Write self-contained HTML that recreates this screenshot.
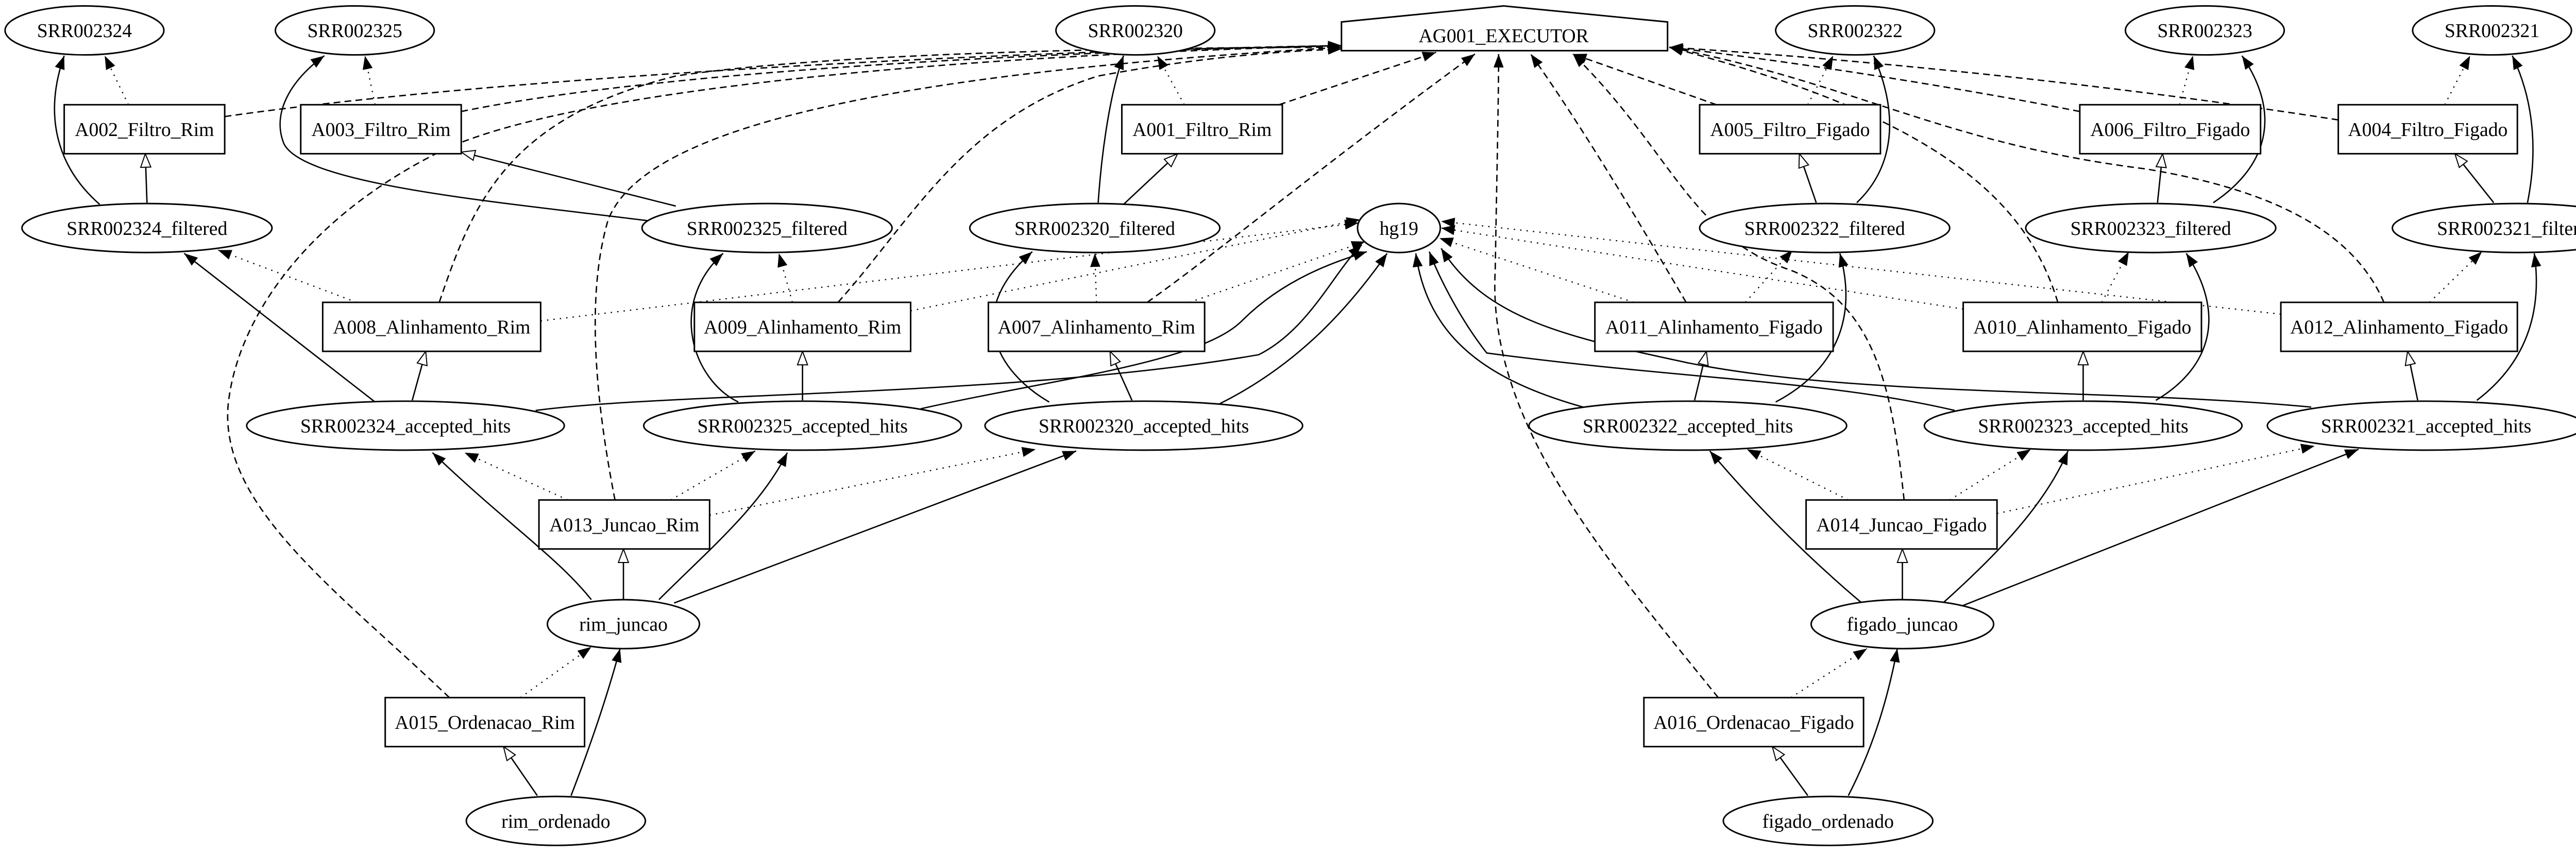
<!DOCTYPE html>
<html><head><meta charset="utf-8"><style>
html,body{margin:0;padding:0;background:#fff;}
svg{display:block;}
text{font-family:"Liberation Serif",serif;font-size:11.5px;text-anchor:middle;fill:#000;}
</style></head><body>
<svg width="5142" height="1654" viewBox="0 0 1568 504.4" preserveAspectRatio="none" xmlns="http://www.w3.org/2000/svg">
<defs>
<marker id="f" markerUnits="userSpaceOnUse" markerWidth="8" markerHeight="6" viewBox="0 0 8 6" refX="8" refY="3" orient="auto"><path d="M0,0 L8,3 L0,6 z" fill="#000" stroke="none"/></marker>
<marker id="h" markerUnits="userSpaceOnUse" markerWidth="9" markerHeight="7" viewBox="-0.5 -0.5 9 7" refX="8" refY="3" orient="auto"><path d="M0,0 L8,3 L0,6 z" fill="#fff" stroke="#000" stroke-width="0.6"/></marker>
</defs>
<rect width="1568" height="504.4" fill="#fff"/>

<!-- solid edges with filled arrows -->
<g fill="none" stroke="#000" stroke-width="0.8" marker-end="url(#f)">
<path d="M59,121 C35,100 25,70 38,33"/>
<path d="M386,131 C300,120 180,110 168,85 C160,65 175,45 192,33"/>
<path d="M650,120 C652,90 657,55 665,33"/>
<path d="M1099,120 C1120,100 1125,70 1109,33"/>
<path d="M1310,120 C1340,100 1352,70 1327,33"/>
<path d="M1496,120 C1502,90 1500,60 1487,33"/>
<path d="M222,238 L109,150"/>
<path d="M317,243 C400,232 600,235 745,210 C775,195 790,160 806,145"/>
<path d="M437,238 C410,225 395,180 428,150"/>
<path d="M545,242 C620,225 710,215 735,190 C760,165 790,155 809,149"/>
<path d="M621,238 C590,220 570,185 611,149"/>
<path d="M722,239 C770,215 800,180 821,150"/>
<path d="M1051,238 C1085,220 1100,190 1089,150"/>
<path d="M937,241 C880,225 845,200 838,150"/>
<path d="M1276,237 C1305,220 1320,190 1294,150"/>
<path d="M1157,243 C1080,225 1000,225 880,209 C865,190 852,165 846,149"/>
<path d="M1466,237 C1495,215 1505,185 1500,150"/>
<path d="M1368,241 C1250,230 1100,235 1000,215 C930,200 880,190 853,147"/>
<path d="M350,355 C330,330 300,310 256,268"/>
<path d="M390,355 C420,325 450,300 466,268"/>
<path d="M399,357 L637,267"/>
<path d="M1102,357 C1070,330 1040,300 1012,267"/>
<path d="M1150,357 C1180,330 1210,300 1224,267"/>
<path d="M1158,360 L1396,266"/>
<path d="M338,471 C350,440 360,410 367,384"/>
<path d="M1094,471 C1110,440 1118,410 1123,384"/>
</g>

<!-- solid edges with hollow arrows -->
<g fill="none" stroke="#000" stroke-width="0.8" marker-end="url(#h)">
<path d="M87,120 L86,91"/>
<path d="M400,122 L273,90"/>
<path d="M665,121 L697,91"/>
<path d="M1075,120 L1065,91"/>
<path d="M1277,120 L1280,91"/>
<path d="M1476,120 L1453,91"/>
<path d="M244,237 L252,208"/>
<path d="M475,237 L475,208"/>
<path d="M670,237 L657,208"/>
<path d="M1003,237 L1010,208"/>
<path d="M1233,237 L1233,208"/>
<path d="M1431,237 L1425,208"/>
<path d="M369,355 L369,325"/>
<path d="M1126,355 L1126,325"/>
<path d="M318,471 L298,442"/>
<path d="M1070,471 L1049,442"/>
</g>

<!-- dotted edges -->
<g fill="none" stroke="#000" stroke-width="0.7" stroke-dasharray="0.8,3" marker-end="url(#f)">
<path d="M76,62 L62,33"/>
<path d="M222,62 L216,33"/>
<path d="M701,62 L685,33"/>
<path d="M1070,62 L1085,33"/>
<path d="M1290,62 L1298,33"/>
<path d="M1447,62 L1462,33"/>
<path d="M211,179 L129,148"/>
<path d="M320,190 L804,132"/>
<path d="M469,179 L461,150"/>
<path d="M539,184 L805,130"/>
<path d="M649,179 L648,150"/>
<path d="M704,179 L808,143"/>
<path d="M1033,179 L1061,148"/>
<path d="M967,179 L852,141"/>
<path d="M1244,179 L1260,149"/>
<path d="M1162,183 L853,135"/>
<path d="M1438,179 L1469,149"/>
<path d="M1350,186 L853,131"/>
<path d="M336,296 L275,268"/>
<path d="M397,296 L447,267"/>
<path d="M420,305 L613,266"/>
<path d="M1094,296 L1034,266"/>
<path d="M1154,296 L1202,266"/>
<path d="M1182,304 L1370,264"/>
<path d="M308,413 L350,383"/>
<path d="M1060,413 L1105,384"/>
</g>

<!-- dashed edges to executor -->
<g fill="none" stroke="#000" stroke-width="0.8" stroke-dasharray="4,2.5" marker-end="url(#f)">
<path d="M133,69 C300,45 600,30 794,27"/>
<path d="M273,66 C400,40 650,30 794,27"/>
<path d="M757,62 L850,31"/>
<path d="M1016,62 L931,32"/>
<path d="M1231,66 C1150,50 1050,35 988,28"/>
<path d="M1384,71 C1250,50 1100,35 988,28"/>
<path d="M260,179 C280,120 300,70 400,45 C500,30 700,28 794,28"/>
<path d="M496,179 C540,130 570,70 650,45 C720,32 770,30 794,29"/>
<path d="M679,179 C720,150 780,100 873,32"/>
<path d="M998,179 C975,140 940,80 906,32"/>
<path d="M1218,179 C1200,120 1150,70 988,28"/>
<path d="M1411,179 C1390,130 1330,110 1270,100 C1150,85 1100,50 988,28"/>
<path d="M364,296 C355,250 345,180 360,130 C380,80 500,45 794,28"/>
<path d="M1127,296 C1120,230 1110,180 1060,160 C1000,140 990,90 931,32"/>
<path d="M266,413 C200,350 130,300 135,240 C140,190 180,130 260,90 C320,60 500,35 794,27"/>
<path d="M1017,413 C950,330 880,250 885,160 C886,100 887,60 887,32"/>
</g>

<!-- nodes -->
<g fill="#fff" stroke="#000" stroke-width="0.9">
<polygon points="794,30 794,13 890,3.5 987,13 987,30"/>
<ellipse cx="50" cy="18" rx="47" ry="14.5"/>
<ellipse cx="210" cy="18" rx="47" ry="14.5"/>
<ellipse cx="672" cy="18" rx="47" ry="14.5"/>
<ellipse cx="1098" cy="18" rx="47" ry="14.5"/>
<ellipse cx="1305" cy="18" rx="47" ry="14.5"/>
<ellipse cx="1475" cy="18" rx="47" ry="14.5"/>
<rect x="38" y="62" width="95" height="29"/>
<rect x="178" y="62" width="95" height="29"/>
<rect x="664" y="62" width="95" height="29"/>
<rect x="1006" y="62" width="107" height="29"/>
<rect x="1231" y="62" width="107" height="29"/>
<rect x="1384" y="62" width="106" height="29"/>
<ellipse cx="87" cy="135" rx="74" ry="14.5"/>
<ellipse cx="454" cy="135" rx="74" ry="14.5"/>
<ellipse cx="648" cy="135" rx="74" ry="14.5"/>
<ellipse cx="828" cy="135" rx="24.5" ry="14.5"/>
<ellipse cx="1080" cy="135" rx="74" ry="14.5"/>
<ellipse cx="1273" cy="135" rx="74" ry="14.5"/>
<ellipse cx="1490" cy="135" rx="74" ry="14.5"/>
<rect x="191" y="179" width="129" height="29"/>
<rect x="411" y="179" width="128" height="29"/>
<rect x="585" y="179" width="128" height="29"/>
<rect x="944" y="179" width="141" height="29"/>
<rect x="1162" y="179" width="141" height="29"/>
<rect x="1350" y="179" width="140" height="29"/>
<ellipse cx="240" cy="252" rx="94" ry="14.5"/>
<ellipse cx="475" cy="252" rx="94" ry="14.5"/>
<ellipse cx="677" cy="252" rx="94" ry="14.5"/>
<ellipse cx="999" cy="252" rx="94" ry="14.5"/>
<ellipse cx="1233" cy="252" rx="94" ry="14.5"/>
<ellipse cx="1436" cy="252" rx="94" ry="14.5"/>
<rect x="319" y="296" width="101" height="29"/>
<rect x="1069" y="296" width="113" height="29"/>
<ellipse cx="369" cy="369.5" rx="45" ry="14.5"/>
<ellipse cx="1126" cy="369.5" rx="54" ry="14.5"/>
<rect x="228" y="413" width="118" height="29"/>
<rect x="973" y="413" width="130" height="29"/>
<ellipse cx="329" cy="486" rx="53" ry="14.5"/>
<ellipse cx="1082" cy="486" rx="62" ry="14.5"/>
</g>

<g>
<text x="890" y="25">AG001_EXECUTOR</text>
<text x="50" y="22">SRR002324</text>
<text x="210" y="22">SRR002325</text>
<text x="672" y="22">SRR002320</text>
<text x="1098" y="22">SRR002322</text>
<text x="1305" y="22">SRR002323</text>
<text x="1475" y="22">SRR002321</text>
<text x="85.5" y="80.5">A002_Filtro_Rim</text>
<text x="225.5" y="80.5">A003_Filtro_Rim</text>
<text x="711.5" y="80.5">A001_Filtro_Rim</text>
<text x="1059.5" y="80.5">A005_Filtro_Figado</text>
<text x="1284.5" y="80.5">A006_Filtro_Figado</text>
<text x="1437" y="80.5">A004_Filtro_Figado</text>
<text x="87" y="139">SRR002324_filtered</text>
<text x="454" y="139">SRR002325_filtered</text>
<text x="648" y="139">SRR002320_filtered</text>
<text x="828" y="139">hg19</text>
<text x="1080" y="139">SRR002322_filtered</text>
<text x="1273" y="139">SRR002323_filtered</text>
<text x="1490" y="139">SRR002321_filtered</text>
<text x="255.5" y="197.5">A008_Alinhamento_Rim</text>
<text x="475" y="197.5">A009_Alinhamento_Rim</text>
<text x="649" y="197.5">A007_Alinhamento_Rim</text>
<text x="1014.5" y="197.5">A011_Alinhamento_Figado</text>
<text x="1232.5" y="197.5">A010_Alinhamento_Figado</text>
<text x="1420" y="197.5">A012_Alinhamento_Figado</text>
<text x="240" y="256">SRR002324_accepted_hits</text>
<text x="475" y="256">SRR002325_accepted_hits</text>
<text x="677" y="256">SRR002320_accepted_hits</text>
<text x="999" y="256">SRR002322_accepted_hits</text>
<text x="1233" y="256">SRR002323_accepted_hits</text>
<text x="1436" y="256">SRR002321_accepted_hits</text>
<text x="369.5" y="314.5">A013_Juncao_Rim</text>
<text x="1125.5" y="314.5">A014_Juncao_Figado</text>
<text x="369" y="373.5">rim_juncao</text>
<text x="1126" y="373.5">figado_juncao</text>
<text x="287" y="431.5">A015_Ordenacao_Rim</text>
<text x="1038" y="431.5">A016_Ordenacao_Figado</text>
<text x="329" y="490">rim_ordenado</text>
<text x="1082" y="490">figado_ordenado</text>
</g>
</svg>
</body></html>
